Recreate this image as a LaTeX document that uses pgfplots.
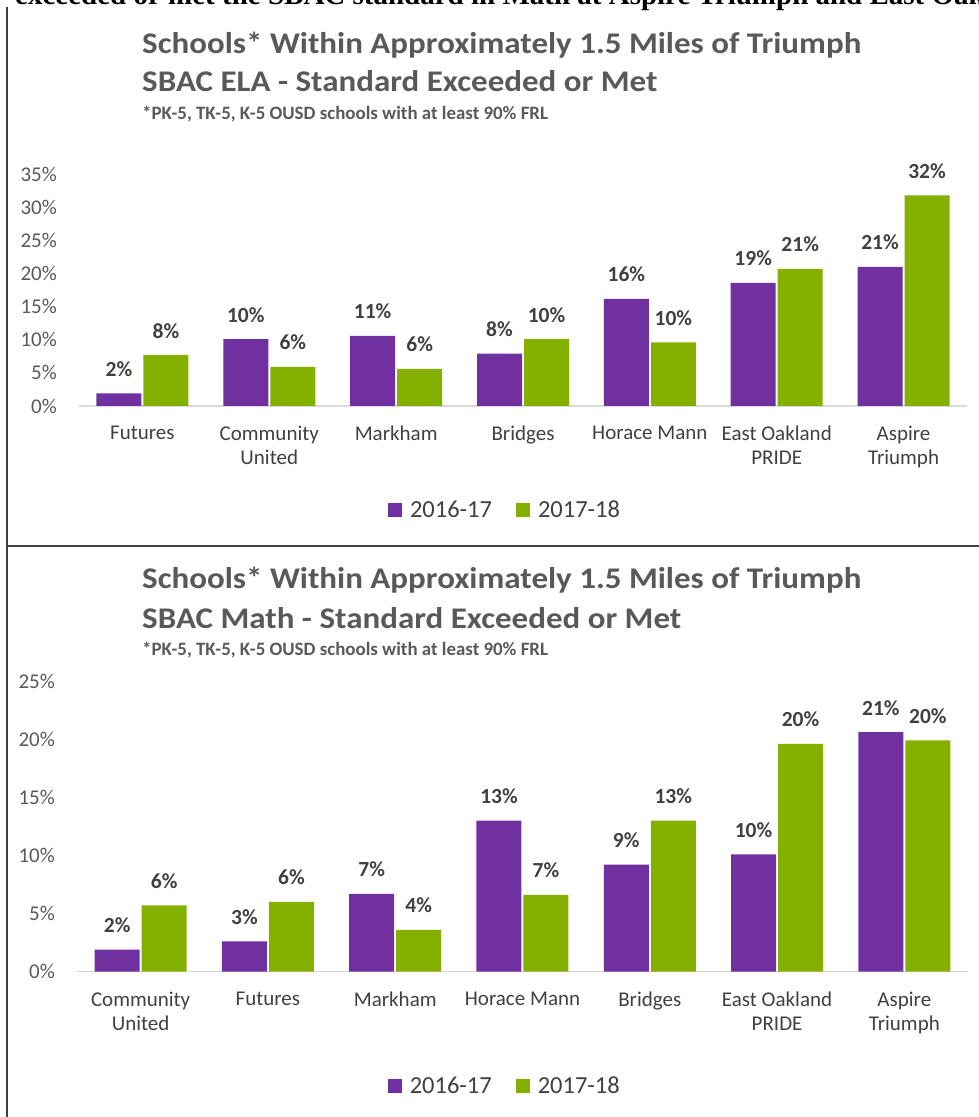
\documentclass[border=0pt]{standalone}
\usepackage{fontspec}
\setmainfont{Carlito}
\newfontfamily\titlefont{Carlito}[FakeStretch=1.1]
\newfontfamily\docfont{Liberation Serif}
\usepackage{pgfplots}
\usepackage{pgfplotstable}
\pgfplotsset{compat=1.18}

\definecolor{bar16}{HTML}{7030A0}
\definecolor{bar17}{HTML}{84B000}
\definecolor{titlegray}{HTML}{595959}
\definecolor{labelgray}{HTML}{404040}
\definecolor{axisgray}{HTML}{D9D9D9}
\definecolor{rulegray}{HTML}{404040}

% SBAC ELA, percent standard exceeded or met
\pgfplotstableread{
x  y16   y17
0  1.9   7.7
1  10.1  5.9
2  10.6  5.6
3  7.9   10.1
4  16.2  9.6
5  18.6  20.7
6  21.0  31.8
}\elatab

% SBAC Math, percent standard exceeded or met
\pgfplotstableread{
x  y16   y17
0  1.9   5.7
1  2.6   6.0
2  6.7   3.6
3  13.0  6.6
4  9.2   13.0
5  10.1  19.6
6  20.6  19.9
}\mathtab

\newcommand\lbl{\fontsize{21}{24}\selectfont}
\newcommand\ttl{\titlefont\bfseries\fontsize{30}{36}\selectfont}
\newcommand\sub{\bfseries\fontsize{18.9}{22}\selectfont}

\pgfplotsset{
  sqlegend/.style={legend image code/.code={\fill[##1] (0pt,-7pt) rectangle (14pt,7pt);}},
  sbac/.style={
    scale only axis,
    ybar=2pt, bar width=45pt,
    xmin=-0.5, xmax=6.5, ymin=0,
    enlarge x limits=false,
    separate axis lines,
    axis x line*=bottom, axis y line*=left,
    x axis line style={-, draw=axisgray, line width=1.2pt},
    y axis line style={draw=none},
    major tick length=0pt,
    tick style={draw=none},
    xtick={0,...,6},
    yticklabel={\pgfmathprintnumber[assume math mode=true]{\tick}\%},
    yticklabel style={font=\lbl, text=titlegray, inner sep=0pt, anchor=east, xshift=-22pt},
    xticklabel style={font=\lbl, text=labelgray, align=center, anchor=north, inner sep=0pt, yshift=-20pt},
    nodes near coords={\pgfmathprintnumber[fixed,precision=0,assume math mode=true]{\pgfplotspointmeta}\%},
    every node near coord/.append style={font=\bfseries\fontsize{21.5}{24}\selectfont, text=labelgray, anchor=base, inner sep=0pt, yshift=17pt},
    clip=false,
    legend columns=2,
    legend style={draw=none, fill=none, anchor=center,
      font=\fontsize{24.5}{30}\selectfont, text=labelgray,
      nodes={inner sep=0pt},
      /tikz/every odd column/.append style={column sep=8pt},
      /tikz/every even column/.append style={column sep=24pt}},
  },
}

\begin{document}
\begin{tikzpicture}[x=1pt,y=1pt]
\useasboundingbox (0,0) rectangle (979,1117);

% surrounding document text and table rules
\node[anchor=base west, inner sep=0pt, font=\docfont\bfseries\fontsize{29}{33}\selectfont]
  at (15,1112) {exceeded or met the SBAC standard in Math at Aspire Triumph and East Oakland};
\draw[rulegray, line width=2pt] (6.5,0) -- (6.5,1110);
\draw[rulegray, line width=2pt] (6.5,571) -- (979,571);

% ---------- ELA ----------
\node[anchor=base west, inner sep=0pt, font=\ttl, text=titlegray]
  at (142,1063.7) {Schools* Within Approximately 1.5 Miles of Triumph};
\node[anchor=base west, inner sep=0pt, font=\ttl, text=titlegray]
  at (142,1025.3) {SBAC ELA - Standard Exceeded or Met};
\node[anchor=base west, inner sep=0pt, font=\sub, text=titlegray]
  at (142,997) {*PK-5, TK-5, K-5 OUSD schools with at least 90\% FRL};

\begin{axis}[sbac,
  at={(79pt,711pt)}, anchor=south west,
  width=888pt, height=231.7pt,
  ymax=35, ytick={0,5,...,35},
  xticklabels={Futures, {Community\\United}, Markham, Bridges, Horace Mann, {East Oakland\\PRIDE}, {Aspire\\Triumph}},
  legend style={at={(0.4786,-0.4489)}},
]
\addplot[fill=bar16, draw=none, sqlegend] table[x=x, y=y16] {\elatab};
\addplot[fill=bar17, draw=none, sqlegend] table[x=x, y=y17] {\elatab};
\legend{2016-17, 2017-18}
\end{axis}

% ---------- Math ----------
\node[anchor=base west, inner sep=0pt, font=\ttl, text=titlegray]
  at (142,528.7) {Schools* Within Approximately 1.5 Miles of Triumph};
\node[anchor=base west, inner sep=0pt, font=\ttl, text=titlegray]
  at (142,488.7) {SBAC Math - Standard Exceeded or Met};
\node[anchor=base west, inner sep=0pt, font=\sub, text=titlegray]
  at (142,461) {*PK-5, TK-5, K-5 OUSD schools with at least 90\% FRL};

\begin{axis}[sbac,
  at={(77pt,145.3pt)}, anchor=south west,
  width=891pt, height=290.7pt,
  ymax=25, ytick={0,5,...,25},
  xticklabels={{Community\\United}, Futures, Markham, Horace Mann, Bridges, {East Oakland\\PRIDE}, {Aspire\\Triumph}},
  legend style={at={(0.479,-0.3932)}},
]
\addplot[fill=bar16, draw=none, sqlegend] table[x=x, y=y16] {\mathtab};
\addplot[fill=bar17, draw=none, sqlegend] table[x=x, y=y17] {\mathtab};
\legend{2016-17, 2017-18}
\end{axis}
\end{tikzpicture}
\end{document}
